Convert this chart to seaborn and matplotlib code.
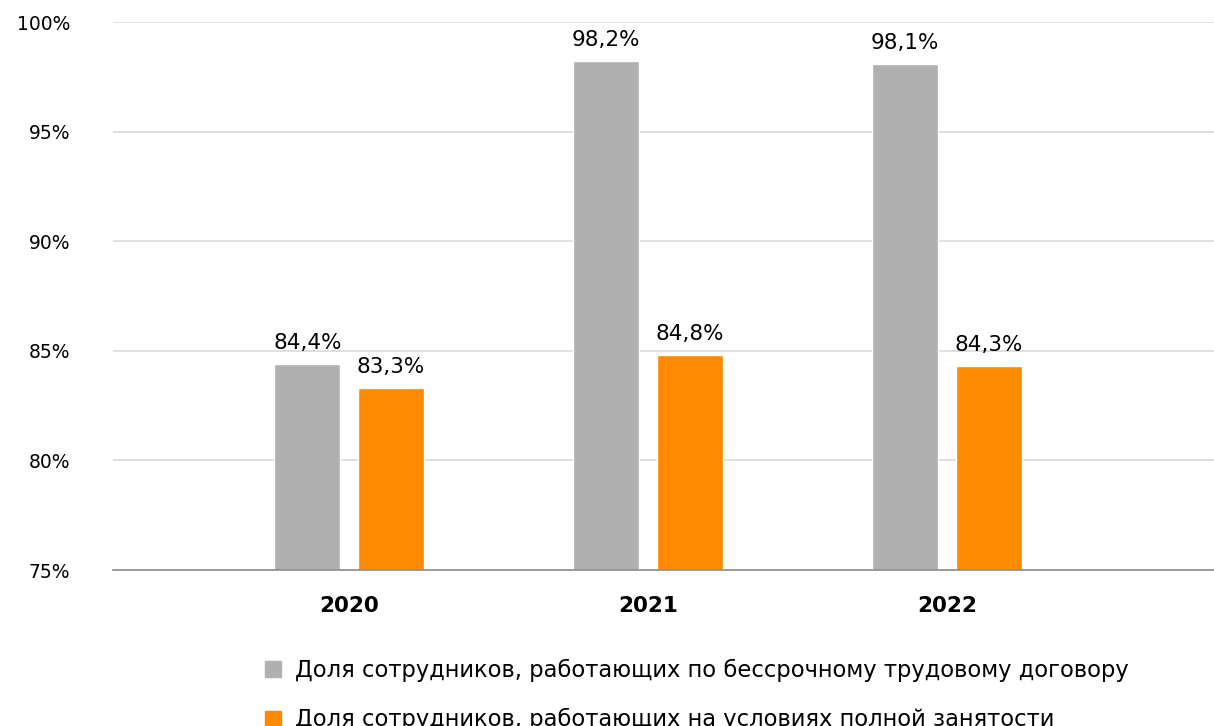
import matplotlib
matplotlib.use("Agg")
import matplotlib.pyplot as plt
from matplotlib.lines import Line2D
import pandas as pd
import seaborn as sns

years = ["2020", "2021", "2022"]
permanent = [84.4, 98.2, 98.1]
full_time = [83.3, 84.8, 84.3]
series_names = [
    "Доля сотрудников, работающих по бессрочному трудовому договору",
    "Доля сотрудников, работающих на условиях полной занятости",
]
colors = ["#b0b0b0", "#ff8a00"]
y_ticks = [75, 80, 85, 90, 95, 100]

df = pd.DataFrame({
    "year": years * 2,
    "value": permanent + full_time,
    "series": [series_names[0]] * 3 + [series_names[1]] * 3,
})

sns.set_theme(style="white")
plt.rcParams["font.family"] = ["DejaVu Sans"]
plt.rcParams["text.color"] = "black"
plt.rcParams["xtick.color"] = "black"
plt.rcParams["ytick.color"] = "black"

fig = plt.figure(figsize=(12.14, 7.26), dpi=100)
ax = fig.add_axes([113 / 1214, 1 - 570 / 726, 1 - 113 / 1214, (570 - 22) / 726])

palette = dict(zip(series_names, colors))
sns.barplot(data=df, x="year", y="value", hue="series", palette=palette,
            width=0.56, gap=0.21, saturation=1, legend=False, ax=ax)

ax.set_ylim(75, 100)
ax.set_xlim(-0.79, 2.894)
ax.set_yticks(y_ticks)
ax.set_yticklabels([f"{t}%" for t in y_ticks], fontsize=13.5)
ax.tick_params(axis="y", length=0, pad=31, labelcolor="black")
ax.tick_params(axis="x", length=0, pad=19, labelcolor="black")
for lbl in ax.get_xticklabels():
    lbl.set_fontsize(15.5)
    lbl.set_fontweight("bold")
ax.set_xlabel("")
ax.set_ylabel("")

ax.grid(axis="y", color="#d9d9d9", linewidth=1.2)
ax.set_axisbelow(True)
for side in ["top", "right", "left"]:
    ax.spines[side].set_visible(False)
ax.spines["bottom"].set_color("#8c8c8c")
ax.spines["bottom"].set_linewidth(1.2)

for cont in ax.containers:
    ax.bar_label(cont, labels=[f"{v:.1f}%".replace(".", ",") for v in cont.datavalues],
                 padding=8, fontsize=15.5, color="black")

handles = [Line2D([], [], marker="s", linestyle="", markersize=11,
                  markerfacecolor=c, markeredgecolor=c) for c in colors]
fig.legend(handles, series_names, loc="upper left",
           bbox_to_anchor=(262 / 1214, 1 - 659 / 726), frameon=False,
           fontsize=16.3, handletextpad=0.45, labelspacing=1.15,
           borderaxespad=0, borderpad=0, handlelength=1.0)

fig.savefig("out.png", dpi=100)
